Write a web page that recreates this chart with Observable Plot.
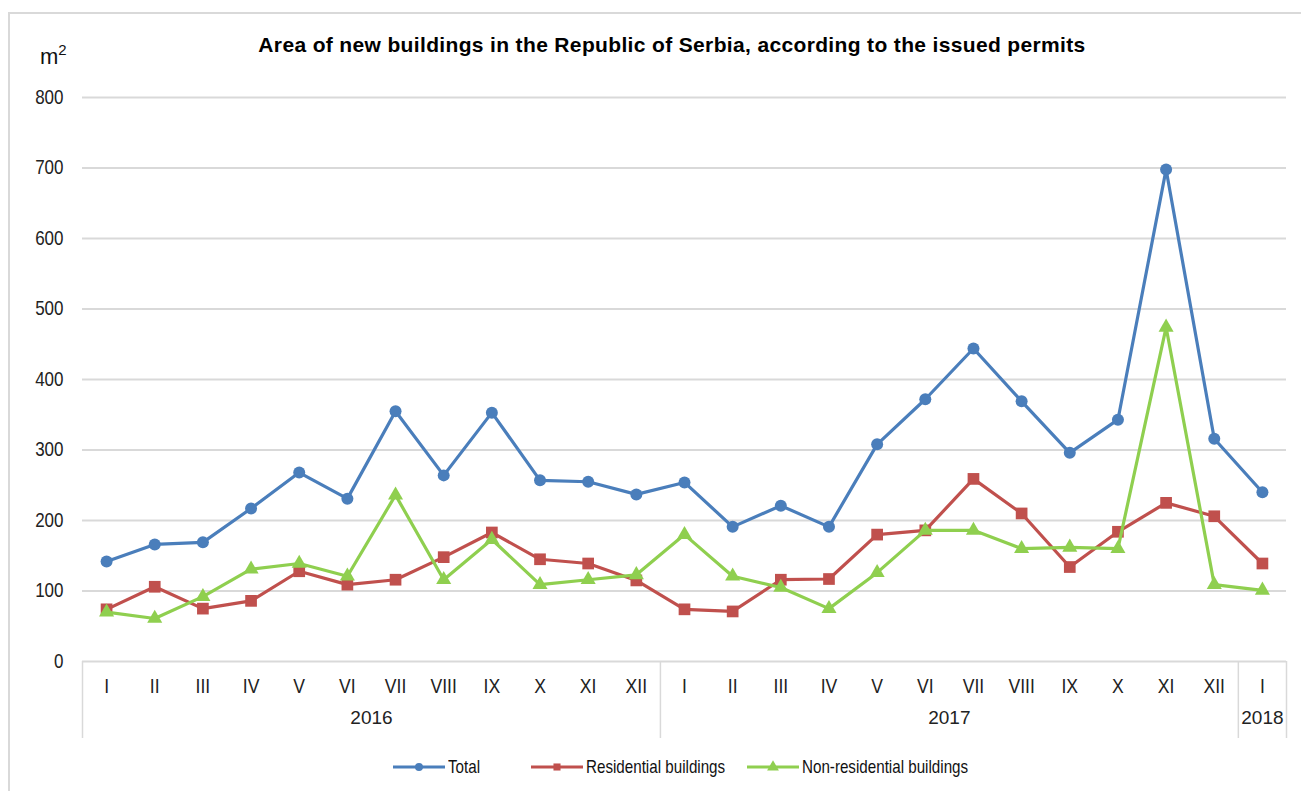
<!DOCTYPE html>
<html><head><meta charset="utf-8">
<script src="https://cdn.jsdelivr.net/npm/d3@7"></script>
<script src="https://cdn.jsdelivr.net/npm/@observablehq/plot@0.6"></script>
<style>
body{margin:0;background:#fff;}
#wrap{position:relative;width:1301px;height:791px;overflow:hidden;font-family:"Liberation Sans",Arial,sans-serif;color:#111;}
#border{position:absolute;left:8px;top:12px;width:1400px;height:900px;border:2px solid #d9d9d9;}
#title{position:absolute;left:0;width:1344px;top:33px;text-align:center;font-weight:bold;font-size:21px;letter-spacing:0.35px;color:#000;}
#unit{position:absolute;left:40px;top:44px;font-size:22px;color:#111;}
#unit sup{font-size:15px;vertical-align:top;position:relative;top:-3px;}
#plot{position:absolute;left:0;top:70px;}
.leg{position:absolute;top:756px;height:22px;display:flex;align-items:center;font-size:18.5px;white-space:nowrap;}
.leg svg{margin-right:2px;}
.leg span{display:inline-block;transform:scaleX(0.82);transform-origin:left center;}
</style>
</head><body>
<div id="wrap">
  <div id="border"></div>
  <div id="title">Area of new buildings in the Republic of Serbia, according to the issued permits</div>
  <div id="unit">m<sup>2</sup></div>
  <div id="plot"></div>
</div>
<script>
const months = ["I","II","III","IV","V","VI","VII","VIII","IX","X","XI","XII",
                "I","II","III","IV","V","VI","VII","VIII","IX","X","XI","XII","I"];
const years = [2016,2016,2016,2016,2016,2016,2016,2016,2016,2016,2016,2016,
               2017,2017,2017,2017,2017,2017,2017,2017,2017,2017,2017,2017,2018];
const total = [142,166,169,217,268,231,355,264,353,257,255,237,
               254,191,221,191,308,372,444,369,296,343,698,316,240];
const residential = [74,106,75,86,128,109,116,148,183,145,139,115,
                     74,71,116,117,180,186,259,210,134,184,225,206,139];
const nonResidential = [70,61,92,131,139,121,236,116,173,109,116,123,
                        180,121,105,75,126,186,186,160,162,160,474,109,101];
const yTicks = [0,100,200,300,400,500,600,700,800];
const seriesNames = ["Total","Residential buildings","Non-residential buildings"];
const seriesColors = ["#4a7ebb","#c0504d","#8fcf4f"];
const seriesSymbols = ["circle","square","triangle"];
const seriesValues = [total, residential, nonResidential];

const idx = months.map((m,i)=>i);
const rows = [];
seriesNames.forEach((name,s)=>{
  idx.forEach(i=>rows.push({i, month: months[i], year: years[i], series: name, value: seriesValues[s][i]}));
});
const groups = d3.groups(idx, i=>years[i]).map(([year, ii])=>({year, center: d3.mean(ii), start: d3.min(ii)-0.5, end: d3.max(ii)+0.5}));
const separators = Array.from(new Set(groups.flatMap(g=>[g.start, g.end])));

const regular = '"Liberation Sans",Arial,sans-serif';
const symR = {circle:6, square:6.6, triangle:5.6};

const marks = [
  Plot.ruleY(yTicks, {y: d=>d, stroke: "#d9d9d9", strokeWidth: 2}),
  Plot.ruleX(separators, {x: d=>d, y1: 0, insetBottom: -77, stroke: "#d9d9d9", strokeWidth: 1.5}),
  Plot.axisY({ticks: yTicks, tickSize: 0, tickPadding: 19, fontSize: 20, fontFamily: regular, label: null}),
  Plot.axisX({ticks: idx, tickFormat: i=>months[i], tickSize: 0, tickPadding: 17, fontSize: 20, fontFamily: regular, label: null}),
  Plot.text(groups, {x: "center", text: d=>String(d.year), frameAnchor: "bottom", dy: 62, fontSize: 19, fontFamily: regular, fill: "#222"})
];
seriesNames.forEach((name,s)=>{
  const d = rows.filter(r=>r.series===name);
  marks.push(Plot.line(d, {x: "i", y: "value", stroke: seriesColors[s], strokeWidth: 3.2}));
  marks.push(Plot.dot(d, {x: "i", y: "value", fill: seriesColors[s], stroke: "none", symbol: seriesSymbols[s], r: symR[seriesSymbols[s]]}));
});

const chart = Plot.plot({
  width: 1301, height: 680,
  marginLeft: 82, marginRight: 15, marginTop: 27, marginBottom: 89,
  style: {fontFamily: regular, fontSize: "19px", color: "#222", background: "transparent"},
  x: {type: "linear", domain: [-0.5, 24.5], axis: null},
  y: {domain: [0, 800], axis: null},
  marks
});
// condense the tick labels horizontally (narrow typeface look)
d3.select(chart).selectAll("g[aria-label='y-axis tick label'] text")
  .attr("transform", function(){ return (this.getAttribute("transform")||"") + " scale(0.85,1)"; });
d3.select(chart).selectAll("g[aria-label='x-axis tick label'] text")
  .attr("transform", function(){ return (this.getAttribute("transform")||"") + " scale(0.88,1)"; });
document.getElementById("plot").appendChild(chart);

// legend
const legendLeft = [392, 530, 746];
const wrap = document.getElementById("wrap");
seriesNames.forEach((name,s)=>{
  const div = document.createElement("div");
  div.className = "leg";
  div.style.left = legendLeft[s] + "px";
  const sym = d3.symbol(s===0?d3.symbolCircle:s===1?d3.symbolSquare:d3.symbolTriangle, s===2?60:50)();
  div.innerHTML = `<svg width="54" height="16"><line x1="1" x2="53" y1="8" y2="8" stroke="${seriesColors[s]}" stroke-width="3"/><path d="${sym}" transform="translate(27,8)" fill="${seriesColors[s]}"/></svg><span>${name}</span>`;
  wrap.appendChild(div);
});
</script>
</body></html>
